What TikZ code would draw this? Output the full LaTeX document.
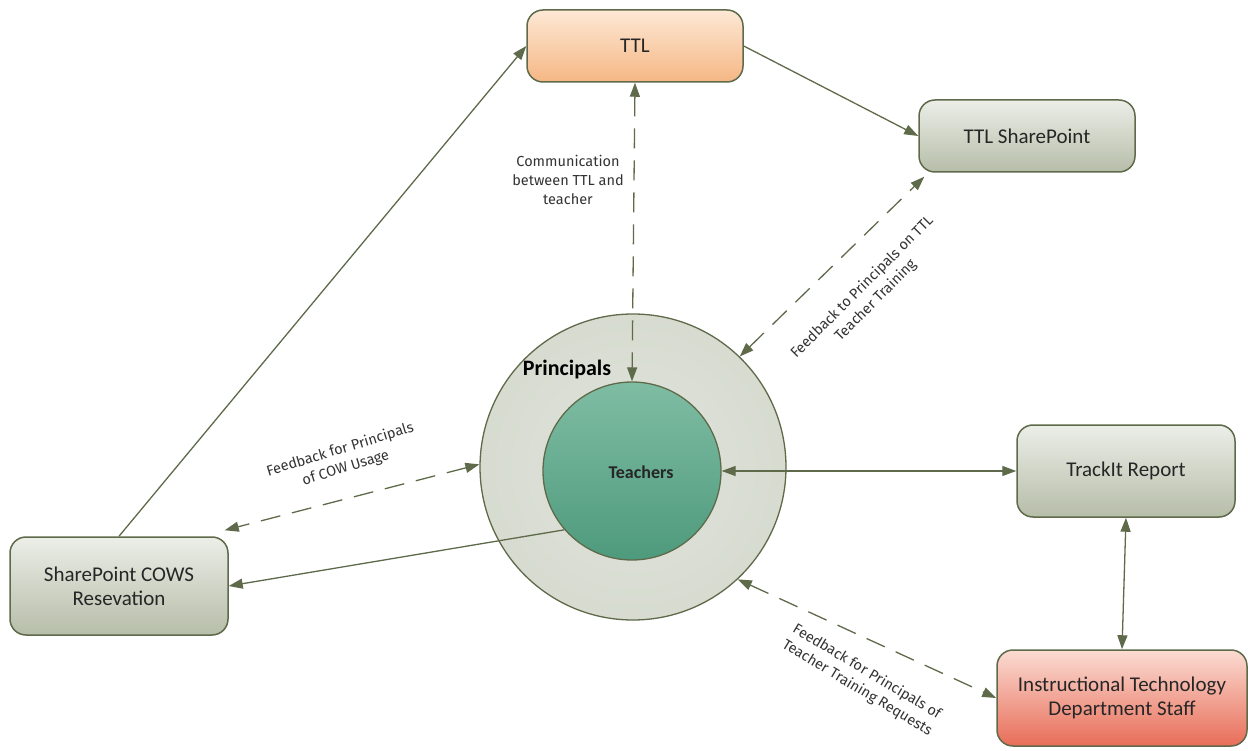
\documentclass[tikz,border=0pt]{standalone}
\usepackage{fontspec}
\setmainfont{Carlito}
\newfontfamily\lblfont{Fira Sans}
\usetikzlibrary{arrows.meta,shapes.geometric}
\definecolor{edge}{HTML}{5E6A4A}
\definecolor{boxtop}{HTML}{ECEEE8}
\definecolor{boxbot}{HTML}{B6BDA8}
\definecolor{ttltop}{HTML}{FDE8D6}
\definecolor{ttlbot}{HTML}{F5B784}
\definecolor{ittop}{HTML}{FBDCD3}
\definecolor{itbot}{HTML}{E86D58}
\definecolor{prinfill}{HTML}{D3D8CC}
\definecolor{teachtop}{HTML}{7FBDA3}
\definecolor{teachbot}{HTML}{4E9A7D}
\tikzset{
  box/.style={draw=edge, line width=1.5pt, rounded corners=16pt, minimum width=216pt,
    minimum height=72pt, top color=boxtop, bottom color=boxbot, align=center,
    font=\fontsize{21}{24}\selectfont, text=black!85},
  conn/.style={draw=edge, line width=1.3pt, -{Triangle[length=14pt,width=10pt]}},
  conn2/.style={conn, {Triangle[length=14pt,width=10pt]}-{Triangle[length=14pt,width=10pt]}},
  dconn/.style={conn2, dash pattern=on 20pt off 12pt},
  lbl/.style={font=\lblfont\fontsize{14.5}{19}\selectfont, align=center, text=black!80},
}
\begin{document}
\begin{tikzpicture}[x=1pt,y=-1pt]
\useasboundingbox (0,0) rectangle (1248,751);
% circles
\node[circle, draw=edge, line width=1.3pt, minimum size=306pt, inner color=prinfill!70, outer color=prinfill!100!black!92] (prin) at (633,467) {};
\node[circle, draw=edge, line width=1.3pt, minimum size=178pt, top color=teachtop, bottom color=teachbot] (teach) at (632,471) {};
\node[font=\bfseries\fontsize{18}{21}\selectfont, text=black!85] (teachlbl) at (641,472) {Teachers};
\node[font=\bfseries\fontsize{22}{25}\selectfont, text=black] (prinlbl) at (567,370) {Principals};
% boxes
\node[box, top color=ttltop, bottom color=ttlbot] (ttl) at (635,46) {TTL};
\node[box] (ttlsp) at (1027,136) {TTL SharePoint};
\node[box, minimum width=218pt, minimum height=92pt] (track) at (1126,471) {TrackIt Report};
\node[box, minimum width=250pt, minimum height=96pt, top color=ittop, bottom color=itbot] (its) at (1122,698) {Instructional Technology\\Department Staff};
\node[box, minimum width=218pt, minimum height=98pt] (cows) at (119,586) {SharePoint COWS\\Resevation};
% connectors
\draw[conn] (cows.north) -- (ttl.west);
\draw[conn] (ttl.east) -- (ttlsp.west);
\draw[dconn] (ttl.south) -- (teach.north);
\draw[dconn] (prin.46) -- ([xshift=6pt,yshift=-4pt]ttlsp.south west);
\draw[dconn] (prin.179) -- ([xshift=-4pt,yshift=6pt]cows.north east);
\draw[conn] (teach.221) -- (cows.east);
\draw[conn2] (teach.east) -- (track.west);
\draw[conn2] (track.south) -- (its.north);
\draw[dconn] (prin.-47) -- (its.west);
% labels
\node[lbl] (l1) at (568,180) {Communication\\between TTL and\\teacher};
\node[lbl, rotate=45] (l2) at (869,294) {Feedback to Principals on TTL\\Teacher Training};
\node[lbl, rotate=17] (l3) at (343,459) {Feedback for Principals\\of COW Usage};
\node[lbl, rotate=-31] (l4) at (862,680) {Feedback for Principals of\\Teacher Training Requests};
\end{tikzpicture}
\end{document}
